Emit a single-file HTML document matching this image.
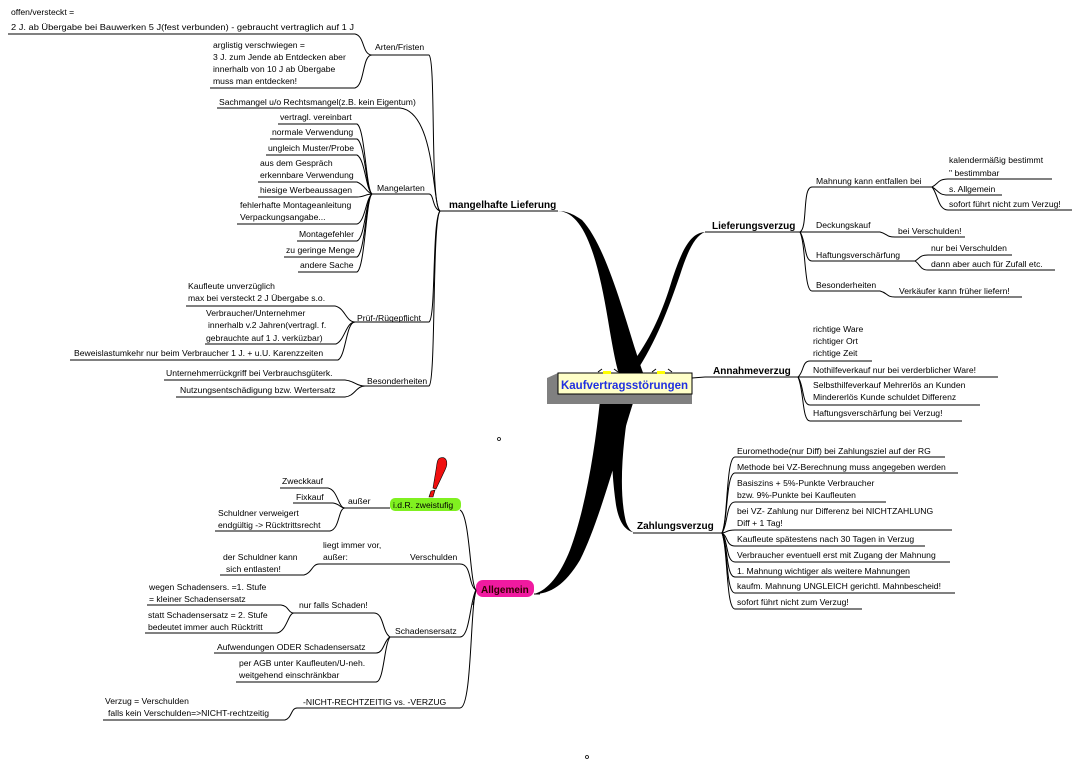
<!DOCTYPE html>
<html><head><meta charset="utf-8"><style>
html,body{margin:0;padding:0;background:#fff;}
svg{display:block;}
text{font-family:"Liberation Sans",Arial,sans-serif;font-size:8.6px;fill:#000;}
.b{font-weight:bold;font-size:10px;}
path.l{fill:none;stroke:#000;stroke-width:1;}
</style></head><body>
<svg width="1081" height="769" viewBox="0 0 1081 769" xmlns="http://www.w3.org/2000/svg">
<!-- thick wedges -->
<path d="M558,211 C585,212 598,260 608,320 C613,350 616,365 620,378 L645,378 C630,340 610,250 582,220 C572,213 565,211 558,211 Z" fill="#000"/>
<path d="M705,232 C690,233 682,250 672,280 C660,320 645,350 620,378 L632,378 C655,345 668,310 680,275 C688,250 695,236 705,232 Z" fill="#000"/>
<path d="M600,400 L634,400 C618,450 600,520 580,560 C565,585 550,594 534,594 C548,590 560,575 570,550 C585,510 595,450 600,400 Z" fill="#000"/>
<path d="M613,400 L630,400 C623,440 618,490 626,522 C629,530 632,533 637,533 C625,532 619,522 616,505 C611,470 611,440 613,400 Z" fill="#000"/>
<!-- central box -->
<polygon points="547,378 558,373 558,394 692,394 692,404 547,404" fill="#808080"/>
<rect x="558" y="373" width="134" height="21" fill="#ffffc8" stroke="#000" stroke-width="1"/>
<rect x="603" y="371" width="8" height="3" fill="#ff0"/>
<rect x="657" y="371" width="8" height="3" fill="#ff0"/>
<path class="l" d="M598,372 l4,-3 M614,369 l4,3 M652,372 l4,-3 M668,369 l4,3"/>
<text x="561" y="389" textLength="127" lengthAdjust="spacingAndGlyphs" style="font-size:12px;font-weight:bold;fill:#2030e0">Kaufvertragsstörungen</text>
<path class="l" d="M692,378 L705,377"/>

<!-- mangelhafte Lieferung -->
<text class="b" x="449" y="208">mangelhafte Lieferung</text>
<path class="l" d="M440,211 L558,211"/>
<path class="l" d="M440,211 C430,205 436,60 429,55 L372,55"/>
<path class="l" d="M440,211 C432,205 436,112 400,108 L217,108"/>
<path class="l" d="M440,211 C432,208 434,194 429,194 L372,194"/>
<path class="l" d="M440,211 C432,220 436,318 429,322 L355,322"/>
<path class="l" d="M440,211 C432,220 436,382 429,386 L365,386"/>
<text x="375" y="50">Arten/Fristen</text>
<text x="219" y="105">Sachmangel u/o Rechtsmangel(z.B. kein Eigentum)</text>
<text x="377" y="191">Mangelarten</text>
<text x="357" y="321">Prüf-/Rügepflicht</text>
<text x="367" y="384">Besonderheiten</text>
<!-- Arten children -->
<text x="11" y="15">offen/versteckt =</text>
<text x="11" y="30" textLength="343" lengthAdjust="spacingAndGlyphs">2 J. ab Übergabe bei Bauwerken 5 J(fest verbunden) - gebraucht vertraglich  auf 1 J</text>
<path class="l" d="M8,34 L355,34 C365,36 362,55 372,55"/>
<text x="213" y="48">arglistig verschwiegen =</text>
<text x="213" y="60">3 J. zum Jende ab Entdecken aber</text>
<text x="213" y="72">innerhalb von 10 J ab Übergabe</text>
<text x="213" y="84">muss man entdecken!</text>
<path class="l" d="M210,88 L355,88 C365,85 362,55 372,55"/>
<!-- Mangelarten children -->
<g>
<text x="280" y="120">vertragl. vereinbart</text>
<text x="272" y="135">normale Verwendung</text>
<text x="268" y="151">ungleich Muster/Probe</text>
<text x="260" y="166">aus dem Gespräch</text>
<text x="260" y="178">erkennbare Verwendung</text>
<text x="260" y="193">hiesige Werbeaussagen</text>
<text x="240" y="208">fehlerhafte Montageanleitung</text>
<text x="240" y="220">Verpackungsangabe...</text>
<text x="299" y="237">Montagefehler</text>
<text x="286" y="253">zu geringe Menge</text>
<text x="300" y="268">andere Sache</text>
<path class="l" d="M278,124 L357,124 C365,128 366,190 372,194"/>
<path class="l" d="M270,139 L357,139 C365,143 366,190 372,194"/>
<path class="l" d="M266,155 L357,155 C365,159 366,190 372,194"/>
<path class="l" d="M258,182 L357,182 C365,185 366,192 372,194"/>
<path class="l" d="M258,197 L357,197 C364,197 366,194 372,194"/>
<path class="l" d="M237,224 L357,224 C365,222 366,198 372,194"/>
<path class="l" d="M297,241 L357,241 C365,238 366,198 372,194"/>
<path class="l" d="M284,257 L357,257 C365,253 366,198 372,194"/>
<path class="l" d="M298,272 L357,272 C365,268 366,198 372,194"/>
</g>
<!-- Prüf children -->
<text x="188" y="289">Kaufleute unverzüglich</text>
<text x="188" y="301">max bei versteckt 2 J Übergabe s.o.</text>
<path class="l" d="M186,306 L335,306 C345,308 346,322 355,322"/>
<text x="206" y="316">Verbraucher/Unternehmer</text>
<text x="208" y="328">innerhalb v.2 Jahren(vertragl. f.</text>
<text x="206" y="341">gebrauchte auf 1 J. verküzbar)</text>
<path class="l" d="M205,344 L336,344 C345,340 346,322 355,322"/>
<text x="74" y="356">Beweislastumkehr nur beim Verbraucher 1 J. + u.U. Karenzzeiten</text>
<path class="l" d="M70,360 L338,360 C346,356 346,322 355,322"/>
<!-- Besonderheiten children -->
<text x="166" y="376">Unternehmerrückgriff bei Verbrauchsgüterk.</text>
<path class="l" d="M164,380 L345,380 C355,381 356,386 365,386"/>
<text x="180" y="393">Nutzungsentschädigung bzw. Wertersatz</text>
<path class="l" d="M176,397 L345,397 C355,396 356,386 365,386"/>

<!-- Lieferungsverzug -->
<text class="b" x="712" y="229">Lieferungsverzug</text>
<path class="l" d="M705,232 L800,232"/>
<path class="l" d="M800,232 C808,228 802,187 812,187 L932,187"/>
<path class="l" d="M800,232 L880,232 C888,234 886,237 895,237 L965,237"/>
<path class="l" d="M800,232 C806,240 804,261 812,261 L915,261"/>
<path class="l" d="M800,232 C806,245 804,291 812,291 L880,291 C888,293 886,297 895,297 L1022,297"/>
<text x="816" y="184">Mahnung kann entfallen bei</text>
<text x="816" y="228">Deckungskauf</text>
<text x="898" y="234">bei Verschulden!</text>
<text x="816" y="258">Haftungsverschärfung</text>
<text x="816" y="288">Besonderheiten</text>
<text x="899" y="294">Verkäufer kann früher liefern!</text>
<path class="l" d="M932,187 C938,184 938,179 948,179 L1052,179"/>
<path class="l" d="M932,187 C938,190 938,195 948,195 L1002,195"/>
<path class="l" d="M932,187 C938,194 938,210 948,210 L1072,210"/>
<text x="949" y="163">kalendermäßig bestimmt</text>
<text x="949" y="176">" bestimmbar</text>
<text x="949" y="192">s. Allgemein</text>
<text x="949" y="207">sofort führt nicht zum Verzug!</text>
<path class="l" d="M915,261 C920,258 920,255 928,255 L1012,255"/>
<path class="l" d="M915,261 C920,264 920,270 928,270 L1055,270"/>
<text x="931" y="251">nur bei Verschulden</text>
<text x="931" y="267">dann aber auch für Zufall etc.</text>

<!-- Annahmeverzug -->
<text class="b" x="713" y="374">Annahmeverzug</text>
<path class="l" d="M705,377 L798,377"/>
<path class="l" d="M798,377 C804,372 802,361 810,361 L872,361"/>
<path class="l" d="M798,377 L998,377"/>
<path class="l" d="M798,377 C804,385 802,405 810,405 L980,405"/>
<path class="l" d="M798,377 C804,390 802,421 810,421 L962,421"/>
<text x="813" y="332">richtige Ware</text>
<text x="813" y="344">richtiger Ort</text>
<text x="813" y="356">richtige Zeit</text>
<text x="813" y="373">Nothilfeverkauf nur bei verderblicher Ware!</text>
<text x="813" y="388">Selbsthilfeverkauf Mehrerlös an Kunden</text>
<text x="813" y="400">Mindererlös Kunde schuldet Differenz</text>
<text x="813" y="416">Haftungsverschärfung bei Verzug!</text>

<!-- Zahlungsverzug -->
<text class="b" x="637" y="529">Zahlungsverzug</text>
<path class="l" d="M633,533 L722,533"/>
<g>
<path class="l" d="M722,533 C728,520 726,457 735,457 L945,457"/>
<path class="l" d="M722,533 C728,520 726,473 735,473 L958,473"/>
<path class="l" d="M722,533 C728,525 726,502 735,502 L886,502"/>
<path class="l" d="M722,533 C728,532 726,530 735,530 L952,530"/>
<path class="l" d="M722,533 C728,536 726,546 735,546 L925,546"/>
<path class="l" d="M722,533 C728,540 726,562 735,562 L950,562"/>
<path class="l" d="M722,533 C728,545 726,577 735,577 L910,577"/>
<path class="l" d="M722,533 C728,548 726,593 735,593 L955,593"/>
<path class="l" d="M722,533 C728,550 726,609 735,609 L862,609"/>
</g>
<text x="737" y="454">Euromethode(nur Diff) bei Zahlungsziel auf der RG</text>
<text x="737" y="470">Methode bei VZ-Berechnung muss angegeben werden</text>
<text x="737" y="486">Basiszins  + 5%-Punkte Verbraucher</text>
<text x="737" y="498">bzw. 9%-Punkte bei Kaufleuten</text>
<text x="737" y="514">bei VZ- Zahlung nur Differenz bei NICHTZAHLUNG</text>
<text x="737" y="526">Diff + 1 Tag!</text>
<text x="737" y="542">Kaufleute spätestens nach 30 Tagen in Verzug</text>
<text x="737" y="558">Verbraucher eventuell erst mit Zugang der Mahnung</text>
<text x="737" y="574">1. Mahnung wichtiger als weitere Mahnungen</text>
<text x="737" y="589">kaufm. Mahnung UNGLEICH gerichtl. Mahnbescheid!</text>
<text x="737" y="605">sofort führt nicht zum Verzug!</text>

<!-- Allgemein -->
<rect x="476" y="580" width="58" height="17" rx="7" fill="#f01aa0"/>
<text x="481" y="593" style="font-weight:bold;font-size:10px;fill:#300">Allgemein</text>
<rect x="390" y="498" width="71" height="13" rx="5" fill="#80f020"/>
<text x="393" y="508" style="font-size:8.6px">i.d.R. zweistufig</text>
<path d="M440,458 C446,456 449,462 445,470 L436,489 L433,488 L436,470 C437,464 437,459 440,458 Z" fill="#f01010" stroke="#000" stroke-width="0.6"/>
<path d="M431,491 L435,490 L433,497 L429,497 Z" fill="#f01010" stroke="#000" stroke-width="0.6"/>
<path class="l" d="M460,510 C470,515 470,585 476,590"/>
<path class="l" d="M476,590 C468,585 472,564 460,564 L319,564"/>
<path class="l" d="M476,590 C470,600 470,637 460,637 L390,637"/>
<path class="l" d="M476,590 C470,610 472,708 460,708 L297,708"/>
<path class="l" d="M476,590 L473,605"/>
<path class="l" d="M534,594 L540,594"/>
<text x="410" y="560">Verschulden</text>
<text x="323" y="548">liegt immer vor,</text>
<text x="323" y="560">außer:</text>
<text x="223" y="560">der Schuldner kann</text>
<text x="226" y="572">sich entlasten!</text>
<path class="l" d="M220,575 L304,575 C312,573 312,564 319,564"/>
<!-- außer -->
<text x="348" y="504">außer</text>
<path class="l" d="M345,508 L390,508"/>
<text x="282" y="484">Zweckkauf</text>
<text x="296" y="500">Fixkauf</text>
<text x="218" y="516">Schuldner verweigert</text>
<text x="218" y="528">endgültig -&gt; Rücktrittsrecht</text>
<path class="l" d="M280,488 L328,488 C338,490 338,508 345,508"/>
<path class="l" d="M293,503 L333,503 C340,504 340,508 345,508"/>
<path class="l" d="M215,531 L330,531 C340,529 338,508 345,508"/>
<!-- Schadensersatz -->
<text x="395" y="634">Schadensersatz</text>
<text x="299" y="608">nur falls Schaden!</text>
<path class="l" d="M390,637 C382,632 384,613 374,613 L294,613"/>
<path class="l" d="M390,637 C384,640 384,653 376,653 L214,653"/>
<path class="l" d="M390,637 C384,645 384,682 376,682 L236,682"/>
<text x="217" y="650">Aufwendungen ODER Schadensersatz</text>
<text x="239" y="666">per AGB unter Kaufleuten/U-neh.</text>
<text x="239" y="678">weitgehend einschränkbar</text>
<text x="149" y="590">wegen Schadensers.  =1.  Stufe</text>
<text x="149" y="602"> = kleiner Schadensersatz</text>
<path class="l" d="M147,605 L281,605 C289,606 288,613 294,613"/>
<text x="148" y="618">statt Schadensersatz = 2. Stufe</text>
<text x="148" y="630">bedeutet immer auch Rücktritt</text>
<path class="l" d="M145,633 L277,633 C287,631 288,613 294,613"/>
<!-- NICHT -->
<text x="303" y="705">-NICHT-RECHTZEITIG vs. -VERZUG</text>
<text x="105" y="704">Verzug = Verschulden</text>
<text x="108" y="716">falls kein Verschulden=&gt;NICHT-rechtzeitig</text>
<path class="l" d="M103,720 L285,720 C292,718 291,708 297,708"/>

<circle cx="499" cy="439" r="1.5" fill="none" stroke="#000" stroke-width="0.8"/>
<circle cx="587" cy="757" r="1.5" fill="none" stroke="#000" stroke-width="0.8"/>
</svg>
</body></html>
